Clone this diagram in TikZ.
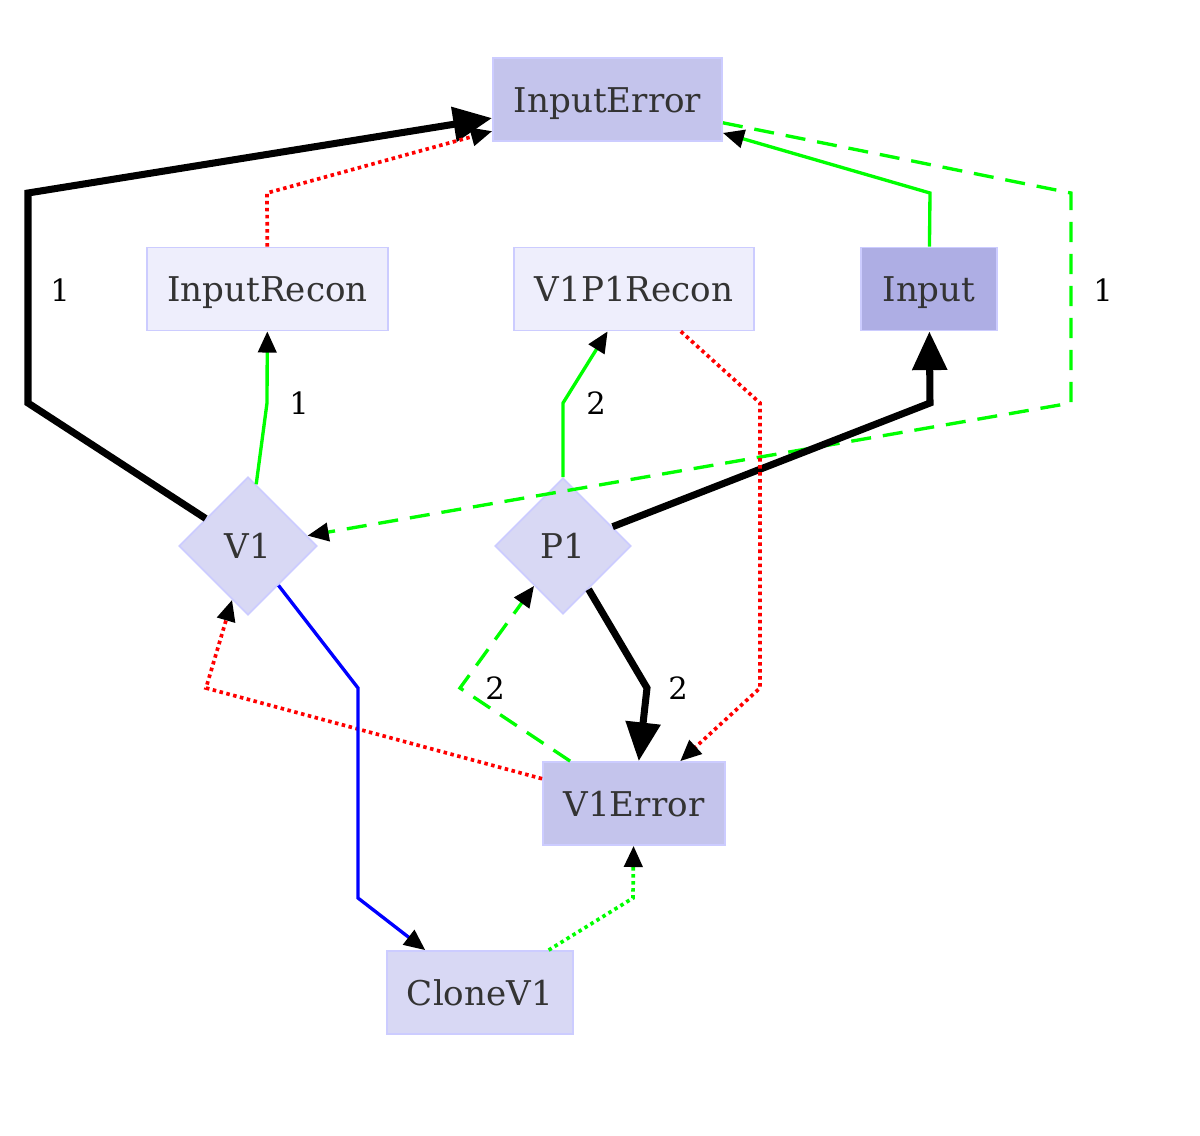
\documentclass[tikz,border=0pt]{standalone}
\usepackage{fontspec}
\setmainfont{DejaVu Serif}
\usetikzlibrary{shapes.geometric,arrows.meta}
\definecolor{errfill}{HTML}{C4C4EC}
\definecolor{infill}{HTML}{AEAEE4}
\definecolor{varfill}{HTML}{D8D8F4}
\definecolor{recfill}{HTML}{EEEEFC}
\definecolor{boxline}{HTML}{CCCCFF}
\definecolor{txt}{HTML}{333333}
\definecolor{grn}{HTML}{00FF00}
\begin{document}
\begin{tikzpicture}[x=.01cm,y=-.01cm,line width=.95pt,
  every node/.style={inner sep=0pt},
  box/.style={draw=boxline,line width=.5pt,text=txt,text height=.8em,text depth=.07em,
    font=\fontsize{9.7}{11}\selectfont},
  rbox/.style={box,rectangle,minimum height=.83cm},
  dbox/.style={box,diamond,aspect=1,minimum width=1.38cm,minimum height=1.38cm,fill=varfill},
  lbl/.style={font=\fontsize{8.7}{10}\selectfont},
  arr/.style={-{Triangle[length=6pt,width=5.2pt,color=black]}},
  bigarr/.style={line width=2pt,-{Triangle[length=11pt,width=9.6pt,color=black]}},
  dsh/.style={dash pattern=on 5.7pt off 3.4pt},
  dts/.style={line width=1.05pt,dash pattern=on 1pt off 1pt}]
  \path[use as bounding box] (0,0) rectangle (1200,1135);
  % nodes
  \node[rbox,fill=errfill,minimum width=2.29cm] (ie) at (607.5,99.5) {InputError};
  \node[rbox,fill=recfill,minimum width=2.41cm] (ir) at (267.5,289) {InputRecon};
  \node[rbox,fill=recfill,minimum width=2.40cm] (vr) at (634,289) {V1P1Recon};
  \node[rbox,fill=infill,minimum width=1.36cm] (in) at (929,289) {Input};
  \node[dbox] (v1) at (248,546) {V1};
  \node[dbox,minimum width=1.36cm,minimum height=1.36cm] (p1) at (563,546) {P1};
  \node[rbox,fill=errfill,minimum width=1.82cm] (ve) at (634,803.5) {V1Error};
  \node[rbox,fill=varfill,minimum width=1.86cm] (cl) at (480,992.5) {CloneV1};
  % edges
  \draw[bigarr] (v1) -- (28,403) -- (28,193) -- (ie);
  \draw[arr,red,dts] (ir) -- (267,193) -- (ie);
  \draw[arr,grn] (in) -- (930,193) -- (ie);
  \draw[arr,grn,dsh] (ie) -- (1071,193) -- (1071,403) -- (v1);
  \draw[arr,grn] (v1) -- (267,403) -- (ir);
  \draw[arr,grn] (p1) -- (563,403) -- (vr);
  \draw[bigarr] (p1) -- (930,403) -- (in);
  \draw[arr,red,dts] (vr) -- (760,403) -- (760,688) -- (ve);
  \draw[bigarr] (p1) -- (647,688) -- (ve);
  \draw[arr,grn,dsh] (ve) -- (460,688) -- (p1);
  \draw[arr,red,dts] (ve) -- (206,688) -- (v1);
  \draw[arr,blue] (v1) -- (358,688) -- (358,898) -- (cl);
  \draw[arr,grn,dts] (cl) -- (633,898) -- (ve);
  % labels
  \node[lbl] (l1) at (60,290) {1};
  \node[lbl] (l2) at (1103,290) {1};
  \node[lbl] (l3) at (299,403) {1};
  \node[lbl] (l4) at (596,403) {2};
  \node[lbl] (l5) at (495,688) {2};
  \node[lbl] (l6) at (678,688) {2};
\end{tikzpicture}
\end{document}
